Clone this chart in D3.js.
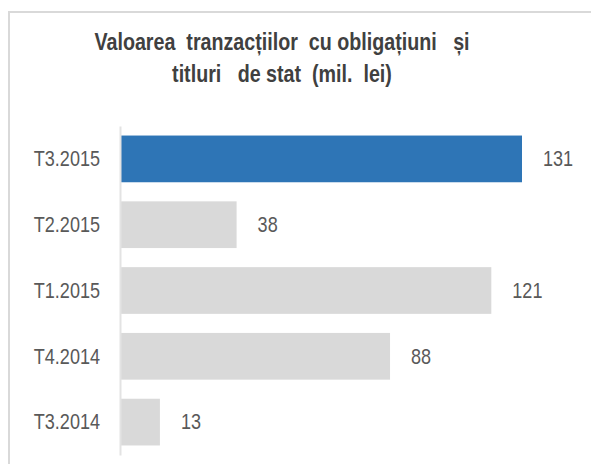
<!DOCTYPE html>
<meta charset="utf-8">
<style>
body { margin: 0; background: #fff; }
svg { display: block; }
.title { font: bold 24px "Liberation Sans", Arial, sans-serif; fill: #404040; white-space: pre; }
.cat text { font: 22px "Liberation Sans", Arial, sans-serif; fill: #595959; }
.val { font: 22px "Liberation Sans", Arial, sans-serif; fill: #595959; }
</style>
<svg width="591" height="464"></svg>
<script src="https://d3js.org/d3.v7.min.js"></script>
<script>

var categories = ["T3.2015", "T2.2015", "T1.2015", "T4.2014", "T3.2014"];
var values = [131, 38, 121, 88, 13];
var highlight = ["T3.2015"];
var titleLines = ["Valoarea  tranzacțiilor  cu obligațiuni   și", "titluri   de stat  (mil.  lei)"];

var svg = d3.select("svg");

var data = categories.map(function(c, i) { return {cat: c, value: values[i]}; });

// squeeze text horizontally to mimic a narrow font (no Arial Narrow here)
function narrow(sel, k) {
  sel.each(function() {
    var w = this.getComputedTextLength();
    d3.select(this).attr("textLength", w * k).attr("lengthAdjust", "spacingAndGlyphs");
  });
}

// chart frame
svg.append("path")
    .attr("d", "M9,470V12H600")
    .attr("fill", "none")
    .attr("stroke", "#d9d9d9")
    .attr("stroke-width", 2);

var x = d3.scaleLinear()
    .domain([0, 131])
    .range([120, 522]);

var y = d3.scaleBand()
    .domain(categories)
    .range([126, 455])
    .paddingInner(0.29)
    .paddingOuter(0.145);

// title
svg.selectAll("text.title")
    .data(titleLines)
  .enter().append("text")
    .attr("class", "title")
    .attr("x", 282)
    .attr("y", function(d, i) { return 50 + i * 32; })
    .attr("text-anchor", "middle")
    .text(function(d) { return d; })
    .call(narrow, 0.82);

// bars
svg.selectAll("rect.bar")
    .data(data)
  .enter().append("rect")
    .attr("class", "bar")
    .attr("x", x(0))
    .attr("y", function(d) { return y(d.cat); })
    .attr("width", function(d) { return x(d.value) - x(0); })
    .attr("height", y.bandwidth())
    .attr("fill", function(d) { return highlight.indexOf(d.cat) >= 0 ? "#2e75b6" : "#d9d9d9"; });

// value labels
svg.selectAll("text.val")
    .data(data)
  .enter().append("text")
    .attr("class", "val")
    .attr("x", function(d) { return x(d.value) + 21; })
    .attr("y", function(d) { return y(d.cat) + y.bandwidth() / 2; })
    .attr("dy", "0.33em")
    .text(function(d) { return d.value; })
    .call(narrow, 0.82);

// category axis
var axis = svg.append("g")
    .attr("class", "cat")
    .attr("transform", "translate(" + x(0) + ",0)")
    .call(d3.axisLeft(y).tickSize(0).tickPadding(20));

axis.selectAll(".tick text")
    .attr("dy", "0.33em")
    .call(narrow, 0.82);

axis.select(".domain")
    .attr("stroke", "#e3e3e3")
    .attr("stroke-width", 2);

</script>
